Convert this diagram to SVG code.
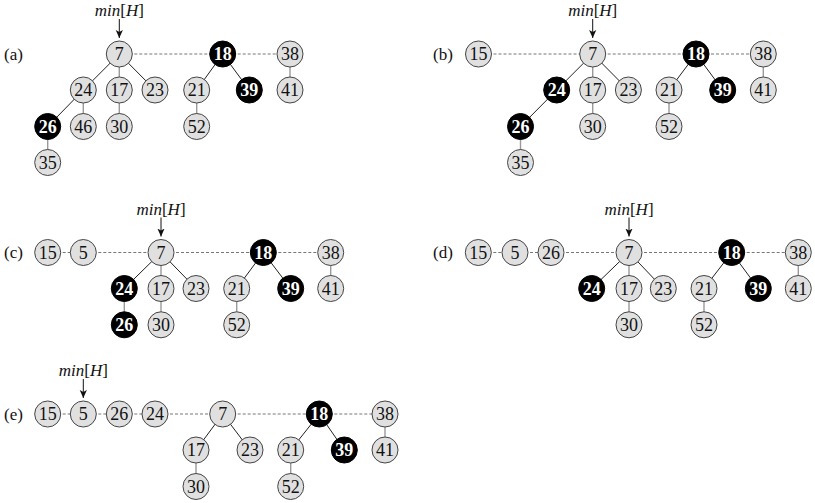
<svg xmlns="http://www.w3.org/2000/svg" width="815" height="503" viewBox="0 0 815 503">
<style>
  .n circle { fill: #e0e0e0; stroke: #444; stroke-width: 1; }
  .n text { font-family: "Liberation Serif", "Times New Roman", serif; font-size: 18px; fill: #111; text-anchor: middle; }
  .b circle { fill: #000; stroke: #000; stroke-width: 1; }
  .b text { font-family: "Liberation Serif", "Times New Roman", serif; font-size: 18px; font-weight: bold; fill: #fff; text-anchor: middle; }
  .e { stroke: #222; stroke-width: 1; fill: none; }
  .v { stroke: #9a9a9a; stroke-width: 1.4; fill: none; }
  .d { stroke: #777; stroke-width: 1; stroke-dasharray: 3 2; fill: none; }
  .lbl { font-family: "Liberation Serif", "Times New Roman", serif; font-size: 17px; fill: #111; }
  .mh { font-family: "Liberation Serif", "Times New Roman", serif; font-size: 17px; fill: #111; text-anchor: middle; }
  .ar { stroke: #111; stroke-width: 1; fill: none; }
</style>
<defs>
  <marker id="arr" viewBox="0 0 10 10" refX="10" refY="5" markerWidth="8" markerHeight="8" markerUnits="userSpaceOnUse" orient="auto">
    <path d="M0,0.5 L10,5 L0,9.5 L2.5,5 Z" fill="#111"/>
  </marker>
</defs>

<!-- labels -->
<g id="labels">
  <text class="lbl" x="4" y="59.5">(a)</text>
  <text class="lbl" x="433" y="59.5">(b)</text>
  <text class="lbl" x="4" y="258">(c)</text>
  <text class="lbl" x="433" y="258">(d)</text>
  <text class="lbl" x="4" y="419.5">(e)</text>
</g>

<!-- min[H] pointers -->
<g id="pointers">
  <text class="mh" x="119.3" y="16"><tspan font-style="italic">min</tspan>[<tspan font-style="italic">H</tspan>]</text>
  <line class="ar" x1="119.3" y1="19" x2="119.3" y2="38" marker-end="url(#arr)"/>
  <text class="mh" x="592.7" y="16"><tspan font-style="italic">min</tspan>[<tspan font-style="italic">H</tspan>]</text>
  <line class="ar" x1="592.7" y1="19" x2="592.7" y2="38" marker-end="url(#arr)"/>
  <text class="mh" x="161" y="214.5"><tspan font-style="italic">min</tspan>[<tspan font-style="italic">H</tspan>]</text>
  <line class="ar" x1="161" y1="217.5" x2="161" y2="236.5" marker-end="url(#arr)"/>
  <text class="mh" x="629" y="214.5"><tspan font-style="italic">min</tspan>[<tspan font-style="italic">H</tspan>]</text>
  <line class="ar" x1="629" y1="217.5" x2="629" y2="236.5" marker-end="url(#arr)"/>
  <text class="mh" x="83.3" y="376"><tspan font-style="italic">min</tspan>[<tspan font-style="italic">H</tspan>]</text>
  <line class="ar" x1="83.3" y1="379" x2="83.3" y2="398" marker-end="url(#arr)"/>
</g>

<!-- connectors -->
<g id="connectors">
  <!-- (a) -->
  <line class="d" x1="119.3" y1="54" x2="222.7" y2="54"/>
  <line class="d" x1="222.7" y1="54" x2="290" y2="54"/>
  <line class="e" x1="119.3" y1="54" x2="83.3" y2="90"/>
  <line class="v" x1="119.3" y1="54" x2="119.3" y2="90"/>
  <line class="e" x1="119.3" y1="54" x2="155" y2="90"/>
  <line class="e" x1="83.3" y1="90" x2="47.7" y2="126.5"/>
  <line class="v" x1="83.3" y1="90" x2="83.3" y2="126.5"/>
  <line class="v" x1="119.3" y1="90" x2="119.3" y2="126.5"/>
  <line class="v" x1="47.7" y1="126.5" x2="47.7" y2="162.5"/>
  <line class="e" x1="222.7" y1="54" x2="196.7" y2="90"/>
  <line class="e" x1="222.7" y1="54" x2="249.3" y2="90"/>
  <line class="v" x1="196.7" y1="90" x2="196.7" y2="126.5"/>
  <line class="v" x1="290" y1="54" x2="290" y2="90"/>
  <!-- (b) -->
  <line class="d" x1="478.5" y1="54" x2="592.7" y2="54"/>
  <line class="d" x1="592.7" y1="54" x2="696" y2="54"/>
  <line class="d" x1="696" y1="54" x2="763.3" y2="54"/>
  <line class="e" x1="592.7" y1="54" x2="556.7" y2="90"/>
  <line class="v" x1="592.7" y1="54" x2="592.7" y2="90"/>
  <line class="e" x1="592.7" y1="54" x2="628.4" y2="90"/>
  <line class="e" x1="556.7" y1="90" x2="520.5" y2="126.5"/>
  <line class="v" x1="592.7" y1="90" x2="592.7" y2="126.5"/>
  <line class="v" x1="520.5" y1="126.5" x2="520.5" y2="162.5"/>
  <line class="e" x1="696" y1="54" x2="669" y2="90"/>
  <line class="e" x1="696" y1="54" x2="722.7" y2="90"/>
  <line class="v" x1="669" y1="90" x2="669" y2="126.5"/>
  <line class="v" x1="763.3" y1="54" x2="763.3" y2="90"/>
  <!-- (c) -->
  <line class="d" x1="47.7" y1="252.5" x2="83.3" y2="252.5"/>
  <line class="d" x1="83.3" y1="252.5" x2="161" y2="252.5"/>
  <line class="d" x1="161" y1="252.5" x2="263.3" y2="252.5"/>
  <line class="d" x1="263.3" y1="252.5" x2="330.7" y2="252.5"/>
  <line class="e" x1="161" y1="252.5" x2="124.3" y2="288.5"/>
  <line class="v" x1="161" y1="252.5" x2="161" y2="288.5"/>
  <line class="e" x1="161" y1="252.5" x2="196" y2="288.5"/>
  <line class="v" x1="124.3" y1="288.5" x2="124.3" y2="324.8"/>
  <line class="v" x1="161" y1="288.5" x2="161" y2="324.8"/>
  <line class="e" x1="263.3" y1="252.5" x2="236.7" y2="288.5"/>
  <line class="e" x1="263.3" y1="252.5" x2="290.7" y2="288.5"/>
  <line class="v" x1="236.7" y1="288.5" x2="236.7" y2="324.8"/>
  <line class="v" x1="330.7" y1="252.5" x2="330.7" y2="288.5"/>
  <!-- (d) -->
  <line class="d" x1="478.3" y1="252.5" x2="515" y2="252.5"/>
  <line class="d" x1="515" y1="252.5" x2="551" y2="252.5"/>
  <line class="d" x1="551" y1="252.5" x2="629" y2="252.5"/>
  <line class="d" x1="629" y1="252.5" x2="731.7" y2="252.5"/>
  <line class="d" x1="731.7" y1="252.5" x2="798.3" y2="252.5"/>
  <line class="e" x1="629" y1="252.5" x2="591.7" y2="288.5"/>
  <line class="v" x1="629" y1="252.5" x2="629" y2="288.5"/>
  <line class="e" x1="629" y1="252.5" x2="663.3" y2="288.5"/>
  <line class="v" x1="629" y1="288.5" x2="629" y2="324.8"/>
  <line class="e" x1="731.7" y1="252.5" x2="704" y2="288.5"/>
  <line class="e" x1="731.7" y1="252.5" x2="758.3" y2="288.5"/>
  <line class="v" x1="704" y1="288.5" x2="704" y2="324.8"/>
  <line class="v" x1="798.3" y1="252.5" x2="798.3" y2="288.5"/>
  <!-- (e) -->
  <line class="d" x1="47.7" y1="414" x2="83.3" y2="414"/>
  <line class="d" x1="83.3" y1="414" x2="119.3" y2="414"/>
  <line class="d" x1="119.3" y1="414" x2="155" y2="414"/>
  <line class="d" x1="155" y1="414" x2="222.7" y2="414"/>
  <line class="d" x1="222.7" y1="414" x2="319.3" y2="414"/>
  <line class="d" x1="319.3" y1="414" x2="385" y2="414"/>
  <line class="e" x1="222.7" y1="414" x2="196" y2="450"/>
  <line class="e" x1="222.7" y1="414" x2="250" y2="450"/>
  <line class="v" x1="196" y1="450" x2="196" y2="486.5"/>
  <line class="e" x1="319.3" y1="414" x2="290.7" y2="450"/>
  <line class="e" x1="319.3" y1="414" x2="344.3" y2="450"/>
  <line class="v" x1="290.7" y1="450" x2="290.7" y2="486.5"/>
  <line class="v" x1="385" y1="414" x2="385" y2="450"/>
</g>

<!-- nodes (a) -->
<g id="a7" class="n" transform="translate(119.3,54)"><circle r="13"/><text y="6">7</text></g>
<g id="a18" class="b" transform="translate(222.7,54)"><circle r="13"/><text y="6">18</text></g>
<g id="a38" class="n" transform="translate(290,54)"><circle r="13"/><text y="6">38</text></g>
<g id="a24" class="n" transform="translate(83.3,90)"><circle r="13"/><text y="6">24</text></g>
<g id="a17" class="n" transform="translate(119.3,90)"><circle r="13"/><text y="6">17</text></g>
<g id="a23" class="n" transform="translate(155,90)"><circle r="13"/><text y="6">23</text></g>
<g id="a21" class="n" transform="translate(196.7,90)"><circle r="13"/><text y="6">21</text></g>
<g id="a39" class="b" transform="translate(249.3,90)"><circle r="13"/><text y="6">39</text></g>
<g id="a41" class="n" transform="translate(290,90)"><circle r="13"/><text y="6">41</text></g>
<g id="a26" class="b" transform="translate(47.7,126.5)"><circle r="13"/><text y="6">26</text></g>
<g id="a46" class="n" transform="translate(83.3,126.5)"><circle r="13"/><text y="6">46</text></g>
<g id="a30" class="n" transform="translate(119.3,126.5)"><circle r="13"/><text y="6">30</text></g>
<g id="a52" class="n" transform="translate(196.7,126.5)"><circle r="13"/><text y="6">52</text></g>
<g id="a35" class="n" transform="translate(47.7,162.5)"><circle r="13"/><text y="6">35</text></g>

<!-- nodes (b) -->
<g id="b15" class="n" transform="translate(478.5,54)"><circle r="13"/><text y="6">15</text></g>
<g id="b7" class="n" transform="translate(592.7,54)"><circle r="13"/><text y="6">7</text></g>
<g id="b18" class="b" transform="translate(696,54)"><circle r="13"/><text y="6">18</text></g>
<g id="b38" class="n" transform="translate(763.3,54)"><circle r="13"/><text y="6">38</text></g>
<g id="b24" class="b" transform="translate(556.7,90)"><circle r="13"/><text y="6">24</text></g>
<g id="b17" class="n" transform="translate(592.7,90)"><circle r="13"/><text y="6">17</text></g>
<g id="b23" class="n" transform="translate(628.4,90)"><circle r="13"/><text y="6">23</text></g>
<g id="b21" class="n" transform="translate(669,90)"><circle r="13"/><text y="6">21</text></g>
<g id="b39" class="b" transform="translate(722.7,90)"><circle r="13"/><text y="6">39</text></g>
<g id="b41" class="n" transform="translate(763.3,90)"><circle r="13"/><text y="6">41</text></g>
<g id="b26" class="b" transform="translate(520.5,126.5)"><circle r="13"/><text y="6">26</text></g>
<g id="b30" class="n" transform="translate(592.7,126.5)"><circle r="13"/><text y="6">30</text></g>
<g id="b52" class="n" transform="translate(669,126.5)"><circle r="13"/><text y="6">52</text></g>
<g id="b35" class="n" transform="translate(520.5,162.5)"><circle r="13"/><text y="6">35</text></g>

<!-- nodes (c) -->
<g id="c15" class="n" transform="translate(47.7,252.5)"><circle r="13"/><text y="6">15</text></g>
<g id="c5" class="n" transform="translate(83.3,252.5)"><circle r="13"/><text y="6">5</text></g>
<g id="c7" class="n" transform="translate(161,252.5)"><circle r="13"/><text y="6">7</text></g>
<g id="c18" class="b" transform="translate(263.3,252.5)"><circle r="13"/><text y="6">18</text></g>
<g id="c38" class="n" transform="translate(330.7,252.5)"><circle r="13"/><text y="6">38</text></g>
<g id="c24" class="b" transform="translate(124.3,288.5)"><circle r="13"/><text y="6">24</text></g>
<g id="c17" class="n" transform="translate(161,288.5)"><circle r="13"/><text y="6">17</text></g>
<g id="c23" class="n" transform="translate(196,288.5)"><circle r="13"/><text y="6">23</text></g>
<g id="c21" class="n" transform="translate(236.7,288.5)"><circle r="13"/><text y="6">21</text></g>
<g id="c39" class="b" transform="translate(290.7,288.5)"><circle r="13"/><text y="6">39</text></g>
<g id="c41" class="n" transform="translate(330.7,288.5)"><circle r="13"/><text y="6">41</text></g>
<g id="c26" class="b" transform="translate(124.3,324.8)"><circle r="13"/><text y="6">26</text></g>
<g id="c30" class="n" transform="translate(161,324.8)"><circle r="13"/><text y="6">30</text></g>
<g id="c52" class="n" transform="translate(236.7,324.8)"><circle r="13"/><text y="6">52</text></g>

<!-- nodes (d) -->
<g id="d15" class="n" transform="translate(478.3,252.5)"><circle r="13"/><text y="6">15</text></g>
<g id="d5" class="n" transform="translate(515,252.5)"><circle r="13"/><text y="6">5</text></g>
<g id="d26" class="n" transform="translate(551,252.5)"><circle r="13"/><text y="6">26</text></g>
<g id="d7" class="n" transform="translate(629,252.5)"><circle r="13"/><text y="6">7</text></g>
<g id="d18" class="b" transform="translate(731.7,252.5)"><circle r="13"/><text y="6">18</text></g>
<g id="d38" class="n" transform="translate(798.3,252.5)"><circle r="13"/><text y="6">38</text></g>
<g id="d24" class="b" transform="translate(591.7,288.5)"><circle r="13"/><text y="6">24</text></g>
<g id="d17" class="n" transform="translate(629,288.5)"><circle r="13"/><text y="6">17</text></g>
<g id="d23" class="n" transform="translate(663.3,288.5)"><circle r="13"/><text y="6">23</text></g>
<g id="d21" class="n" transform="translate(704,288.5)"><circle r="13"/><text y="6">21</text></g>
<g id="d39" class="b" transform="translate(758.3,288.5)"><circle r="13"/><text y="6">39</text></g>
<g id="d41" class="n" transform="translate(798.3,288.5)"><circle r="13"/><text y="6">41</text></g>
<g id="d30" class="n" transform="translate(629,324.8)"><circle r="13"/><text y="6">30</text></g>
<g id="d52" class="n" transform="translate(704,324.8)"><circle r="13"/><text y="6">52</text></g>

<!-- nodes (e) -->
<g id="e15" class="n" transform="translate(47.7,414)"><circle r="13"/><text y="6">15</text></g>
<g id="e5" class="n" transform="translate(83.3,414)"><circle r="13"/><text y="6">5</text></g>
<g id="e26" class="n" transform="translate(119.3,414)"><circle r="13"/><text y="6">26</text></g>
<g id="e24" class="n" transform="translate(155,414)"><circle r="13"/><text y="6">24</text></g>
<g id="e7" class="n" transform="translate(222.7,414)"><circle r="13"/><text y="6">7</text></g>
<g id="e18" class="b" transform="translate(319.3,414)"><circle r="13"/><text y="6">18</text></g>
<g id="e38" class="n" transform="translate(385,414)"><circle r="13"/><text y="6">38</text></g>
<g id="e17" class="n" transform="translate(196,450)"><circle r="13"/><text y="6">17</text></g>
<g id="e23" class="n" transform="translate(250,450)"><circle r="13"/><text y="6">23</text></g>
<g id="e21" class="n" transform="translate(290.7,450)"><circle r="13"/><text y="6">21</text></g>
<g id="e39" class="b" transform="translate(344.3,450)"><circle r="13"/><text y="6">39</text></g>
<g id="e41" class="n" transform="translate(385,450)"><circle r="13"/><text y="6">41</text></g>
<g id="e30" class="n" transform="translate(196,486.5)"><circle r="13"/><text y="6">30</text></g>
<g id="e52" class="n" transform="translate(290.7,486.5)"><circle r="13"/><text y="6">52</text></g>
</svg>
